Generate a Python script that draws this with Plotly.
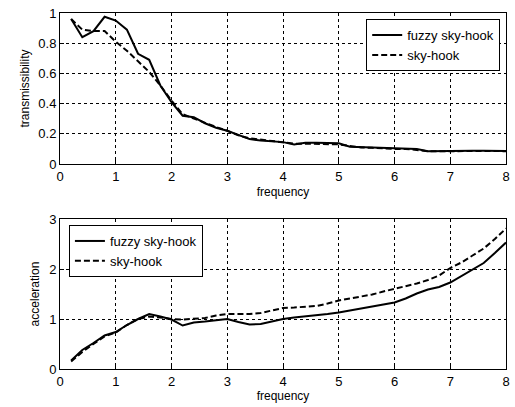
import plotly.graph_objects as go
from plotly.subplots import make_subplots

freq = [round(0.2 * i, 1) for i in range(1, 41)]

trans_fuzzy = [0.96, 0.84, 0.88, 0.975, 0.95, 0.89, 0.73, 0.69, 0.52, 0.41,
               0.32, 0.31, 0.27, 0.24, 0.22, 0.19, 0.165, 0.155, 0.15, 0.145,
               0.13, 0.14, 0.14, 0.137, 0.137, 0.115, 0.112, 0.11, 0.105, 0.103,
               0.102, 0.10, 0.085, 0.087, 0.088, 0.088, 0.088, 0.088, 0.087, 0.086]
trans_sky = [0.96, 0.89, 0.88, 0.88, 0.81, 0.75, 0.68, 0.61, 0.52, 0.42,
             0.33, 0.30, 0.27, 0.245, 0.22, 0.19, 0.17, 0.16, 0.155, 0.145,
             0.135, 0.135, 0.135, 0.135, 0.13, 0.12, 0.11, 0.107, 0.102, 0.10,
             0.10, 0.095, 0.085, 0.085, 0.086, 0.086, 0.086, 0.086, 0.086, 0.085]

acc_fuzzy = [0.17, 0.38, 0.52, 0.67, 0.74, 0.88, 1.0, 1.1, 1.05, 0.99,
             0.87, 0.93, 0.95, 0.97, 1.0, 0.94, 0.89, 0.9, 0.95, 1.0,
             1.03, 1.05, 1.07, 1.1, 1.13, 1.17, 1.2, 1.24, 1.28, 1.33,
             1.41, 1.51, 1.59, 1.64, 1.73, 1.86, 1.98, 2.12, 2.32, 2.53]
acc_sky = [0.15, 0.34, 0.5, 0.65, 0.73, 0.88, 1.0, 1.05, 1.03, 1.0,
           0.99, 1.0, 1.02, 1.07, 1.1, 1.1, 1.1, 1.12, 1.17, 1.22,
           1.23, 1.24, 1.26, 1.31, 1.37, 1.41, 1.45, 1.49, 1.55, 1.6,
           1.65, 1.71, 1.78, 1.87, 2.02, 2.13, 2.27, 2.41, 2.6, 2.81]

names = ["fuzzy sky-hook", "sky-hook"]
x_ticks = [0, 1, 2, 3, 4, 5, 6, 7, 8]
top_ticks = [0, 0.2, 0.4, 0.6, 0.8, 1]
top_labels = ["0", "0.2", "0.4", "0.6", "0.8", "1"]
bot_ticks = [0, 1, 2, 3]

FONT = "Liberation Sans, Arial, sans-serif"

fig = make_subplots(rows=2, cols=1, vertical_spacing=0.1545)
fig.update_layout(
    yaxis=dict(domain=[0.5758, 1.0]),
    yaxis2=dict(domain=[0.0, 0.4213]),
)

fig.add_trace(go.Scatter(x=freq, y=trans_fuzzy, mode="lines", name=names[0],
                         line=dict(color="black", width=2), legend="legend"), row=1, col=1)
fig.add_trace(go.Scatter(x=freq, y=trans_sky, mode="lines", name=names[1],
                         line=dict(color="black", width=2, dash="6px,3px"), legend="legend"), row=1, col=1)
fig.add_trace(go.Scatter(x=freq, y=acc_fuzzy, mode="lines", name=names[0],
                         line=dict(color="black", width=2), legend="legend2"), row=2, col=1)
fig.add_trace(go.Scatter(x=freq, y=acc_sky, mode="lines", name=names[1],
                         line=dict(color="black", width=2, dash="6px,3px"), legend="legend2"), row=2, col=1)

axis_common = dict(
    showline=True, mirror=True, linecolor="black", linewidth=1,
    showgrid=True, gridcolor="black", gridwidth=1, griddash="3px,3px",
    zeroline=False, ticks="inside", ticklen=4, tickcolor="black",
    tickfont=dict(family=FONT, size=13, color="black"),
)

for r in (1, 2):
    fig.update_xaxes(range=[0, 8], tickvals=x_ticks, row=r, col=1,
                     title=dict(text="frequency", font=dict(family=FONT, size=12, color="black"), standoff=4),
                     **axis_common)
fig.update_yaxes(range=[0, 1], tickvals=top_ticks, ticktext=top_labels, row=1, col=1,
                 title=dict(text="transmissibility", font=dict(family=FONT, size=12, color="black"), standoff=6),
                 **axis_common)
fig.update_yaxes(range=[0, 3], tickvals=bot_ticks, row=2, col=1,
                 title=dict(text="acceleration", font=dict(family=FONT, size=12, color="black"), standoff=6),
                 **axis_common)

legend_common = dict(
    bgcolor="white", bordercolor="black", borderwidth=1,
    font=dict(family=FONT, size=13, color="black"),
    tracegroupgap=0, itemwidth=30,
)
fig.update_layout(
    width=515, height=407,
    margin=dict(l=60, r=5, t=13, b=38),
    paper_bgcolor="white", plot_bgcolor="white",
    showlegend=True,
    legend=dict(x=0.987, y=0.983, xanchor="right", yanchor="top", **legend_common),
    legend2=dict(x=0.02, y=0.4045, xanchor="left", yanchor="top", **legend_common),
    font=dict(family=FONT, color="black"),
)

fig.write_html("out.html")
